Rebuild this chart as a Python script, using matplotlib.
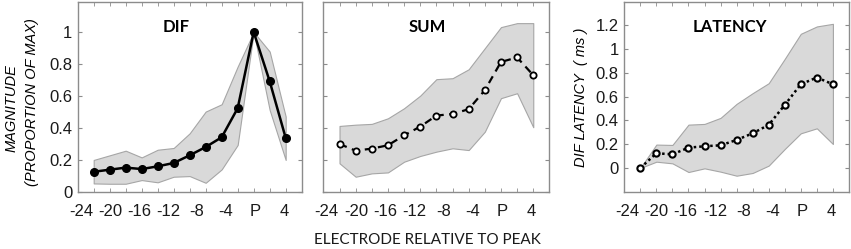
import numpy as np
import matplotlib
matplotlib.use('Agg')
import matplotlib.pyplot as plt

# electrode positions relative to peak (P = 0)
electrode = [-20, -18, -16, -14, -12, -10, -8, -6, -4, -2, 0, 2, 4]
tick_text = ["-24", "-20", "-16", "-12", "-8", "-4", "P", "4"]

dif_mean = [0.125, 0.138, 0.151, 0.142, 0.159, 0.180, 0.228, 0.280, 0.341, 0.523, 1.0, 0.692, 0.337]
dif_hi = [0.199, 0.228, 0.257, 0.215, 0.263, 0.274, 0.366, 0.502, 0.548, 0.784, 1.0, 0.878, 0.471]
dif_lo = [0.052, 0.050, 0.050, 0.073, 0.059, 0.094, 0.098, 0.056, 0.140, 0.293, 1.0, 0.512, 0.199]

sum_mean = [0.299, 0.257, 0.270, 0.291, 0.353, 0.408, 0.477, 0.487, 0.517, 0.636, 0.813, 0.841, 0.730]
sum_hi = [0.412, 0.420, 0.425, 0.460, 0.523, 0.602, 0.705, 0.711, 0.767, 0.899, 1.031, 1.056, 1.056]
sum_lo = [0.178, 0.094, 0.115, 0.121, 0.188, 0.224, 0.251, 0.272, 0.261, 0.376, 0.586, 0.617, 0.404]

lat_mean = [0.0, 0.124, 0.115, 0.171, 0.183, 0.191, 0.236, 0.292, 0.363, 0.531, 0.705, 0.762, 0.705]
lat_hi = [0.0, 0.197, 0.194, 0.365, 0.371, 0.422, 0.540, 0.630, 0.714, 0.919, 1.130, 1.192, 1.214]
lat_lo = [0.0, 0.053, 0.039, -0.034, -0.003, -0.031, -0.065, -0.042, 0.020, 0.160, 0.292, 0.334, 0.202]

plt.rcParams['font.family'] = ['Liberation Sans', 'DejaVu Sans']

fig = plt.figure(figsize=(8.51, 2.49), dpi=100)
bottom, height = 0.230, 0.763
ax1 = fig.add_axes([0.0913, bottom, 0.2632, height])
ax2 = fig.add_axes([0.3800, bottom, 0.2656, height])
ax3 = fig.add_axes([0.7336, bottom, 0.2640, height])

spine_col = '#8c8c8c'
fill_col = '#d9d9d9'
edge_col = '#a6a6a6'
label_pos = np.linspace(-21.6, 3.8, len(tick_text))


def style(ax, ylim, yticks, ylabels):
    ax.set_xlim(-22, 6)
    ax.set_ylim(*ylim)
    for s in ax.spines.values():
        s.set_color(spine_col)
        s.set_linewidth(1.0)
    # labels evenly spread, tick marks at every electrode
    ax.set_xticks(label_pos)
    ax.set_xticklabels(tick_text)
    ax.set_xticks(electrode, minor=True)
    ax.tick_params(axis='x', which='major', length=0, labelsize=12, pad=9, colors='#1a1a1a')
    ax.tick_params(axis='x', which='minor', direction='in', length=3, color=spine_col,
                   top=True, bottom=True)
    ax.set_yticks(yticks)
    if ylabels:
        ax.set_yticklabels(["%g" % v for v in yticks])
    else:
        ax.set_yticklabels([])
    ax.tick_params(axis='y', direction='in', length=3, color=spine_col, right=True,
                   labelsize=12, pad=4, labelcolor='#1a1a1a')


def band(ax, lo, hi):
    ax.fill_between(electrode, lo, hi, facecolor=fill_col, edgecolor=edge_col, linewidth=0.8, zorder=1)


# DIF
band(ax1, dif_lo, dif_hi)
ax1.plot(electrode, dif_mean, '-', color='black', lw=1.8, marker='o', ms=5.5,
         mfc='black', mec='black', zorder=3)
style(ax1, (0, 1.19), [0, 0.2, 0.4, 0.6, 0.8, 1.0], True)
ax1.text(0.44, 0.865, "DIF", transform=ax1.transAxes, ha='center', va='center',
         fontsize=12, fontweight='bold', family='Lato')

# SUM
band(ax2, sum_lo, sum_hi)
ax2.plot(electrode, sum_mean, color='black', lw=1.6, ls=(0, (3.5, 2.5)), marker='o', ms=4.5,
         mfc='white', mec='black', mew=1.3, zorder=3)
style(ax2, (0, 1.19), [0, 0.2, 0.4, 0.6, 0.8, 1.0], False)
ax2.text(0.46, 0.865, "SUM", transform=ax2.transAxes, ha='center', va='center',
         fontsize=12, fontweight='bold', family='Lato')

# LATENCY
band(ax3, lat_lo, lat_hi)
ax3.plot(electrode, lat_mean, color='black', lw=1.8, ls=(0, (1, 1.2)), marker='o', ms=4.5,
         mfc='white', mec='black', mew=1.5, zorder=3)
style(ax3, (-0.2, 1.4), [0, 0.2, 0.4, 0.6, 0.8, 1.0, 1.2], True)
ax3.text(0.47, 0.865, "LATENCY", transform=ax3.transAxes, ha='center', va='center',
         fontsize=12, fontweight='bold', family='Lato')

fig.text(0.014, 0.565, "MAGNITUDE", rotation=90, ha='center', va='center',
         fontsize=10.5, style='italic')
fig.text(0.038, 0.59, "(PROPORTION OF MAX)", rotation=90, ha='center', va='center',
         fontsize=10.5, style='italic')
fig.text(0.683, 0.61, "DIF LATENCY  ( ms )", rotation=90, ha='center', va='center',
         fontsize=10.5, style='italic')

fig.text(0.502, 0.035, "ELECTRODE RELATIVE TO PEAK", ha='center', va='center',
         fontsize=11, family='Lato', color='#1a1a1a')

fig.savefig("out.png", dpi=100)
